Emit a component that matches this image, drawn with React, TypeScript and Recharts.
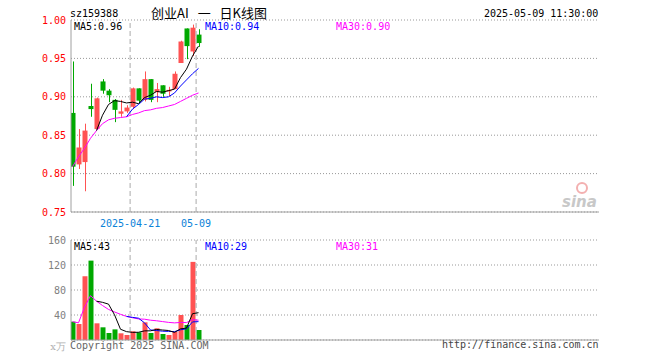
import { ComposedChart, Bar, Line, XAxis, YAxis, CartesianGrid, ReferenceLine, Cell } from "recharts";

const dates = [
  "2025-04-07", "2025-04-08", "2025-04-09", "2025-04-10", "2025-04-11",
  "2025-04-14", "2025-04-15", "2025-04-16", "2025-04-17", "2025-04-18",
  "2025-04-21", "2025-04-22", "2025-04-23", "2025-04-24", "2025-04-25",
  "2025-04-28", "2025-04-29", "2025-04-30", "2025-05-06", "2025-05-07",
  "2025-05-08", "2025-05-09",
];
const opens = [0.879, 0.812, 0.815, 0.888, 0.858, 0.920, 0.908, 0.896, 0.878, 0.881, 0.887, 0.911, 0.896, 0.923, 0.906, 0.915, 0.907, 0.910, 0.944, 0.989, 0.959, 0.981];
const closes = [0.809, 0.834, 0.856, 0.884, 0.898, 0.908, 0.902, 0.883, 0.881, 0.886, 0.911, 0.895, 0.923, 0.896, 0.910, 0.904, 0.909, 0.930, 0.972, 0.966, 0.990, 0.970];
const highs = [0.946, 0.858, 0.865, 0.917, 0.899, 0.923, 0.910, 0.897, 0.896, 0.889, 0.912, 0.911, 0.933, 0.923, 0.918, 0.915, 0.913, 0.933, 0.973, 0.989, 0.994, 0.988];
const lows = [0.784, 0.806, 0.777, 0.874, 0.857, 0.904, 0.893, 0.867, 0.874, 0.879, 0.884, 0.892, 0.894, 0.893, 0.893, 0.900, 0.901, 0.910, 0.944, 0.949, 0.953, 0.965];
const ma5 = [null, null, null, null, 0.856, 0.876, 0.890, 0.895, 0.894, 0.892, 0.893, 0.891, 0.899, 0.902, 0.907, 0.906, 0.908, 0.910, 0.925, 0.936, 0.953, 0.966];
const ma10 = [null, null, null, null, null, null, null, null, null, 0.874, 0.884, 0.890, 0.897, 0.898, 0.900, 0.899, 0.900, 0.905, 0.914, 0.922, 0.930, 0.937];
const ma30 = [0.809, 0.822, 0.833, 0.846, 0.856, 0.865, 0.870, 0.872, 0.873, 0.874, 0.877, 0.879, 0.882, 0.883, 0.885, 0.886, 0.888, 0.890, 0.894, 0.898, 0.902, 0.905];

const vols = [29.3, 25.6, 102, 127, 26.7, 20.3, 11.2, 17, 10.7, 8, 13.9, 12.3, 28.3, 11.2, 18.7, 9.6, 8, 13.3, 40, 24, 125, 16];
const volMa5 = [null, null, null, null, 62.1, 60.3, 57.4, 40.4, 17.2, 13.4, 12.2, 12.4, 14.6, 14.7, 16.9, 16.0, 15.2, 12.2, 17.9, 19.0, 42.1, 43.7];
const volMa10 = [null, null, null, null, null, null, null, null, null, 37.8, 36.2, 34.9, 27.5, 16.0, 15.2, 14.1, 13.8, 13.4, 16.3, 17.9, 29.0, 29.4];
const volMa30 = [29.3, 27.5, 52.3, 71.0, 62.1, 55.2, 48.9, 44.9, 41.1, 37.8, 35.6, 33.7, 33.3, 31.7, 30.8, 29.5, 28.2, 27.4, 28.1, 27.9, 32.5, 31.7];

const priceTicks = [0.75, 0.8, 0.85, 0.9, 0.95, 1.0];
const volTicks = [0, 40, 80, 120, 160];
const markedDays = [10, 21];
const markedLabels = ["2025-04-21", "05-09"];

const RED = "#ff5252";
const GREEN = "#00a800";
const FRAME = "#a0a0a0";
const MONO = "'DejaVu Sans Mono', monospace";
// 88 day slots across the panel, each 6px wide
const X_DOMAIN: [number, number] = [-0.25, 87.75];
const slotEdge = (i: number) => i - 0.4;

const rows = dates.map((d, i) => ({
  i,
  date: d,
  open: opens[i],
  close: closes[i],
  high: highs[i],
  low: lows[i],
  range: [lows[i], highs[i]],
  up: closes[i] >= opens[i],
  ma5: ma5[i],
  ma10: ma10[i],
  ma30: ma30[i],
  vol: vols[i],
  vma5: volMa5[i],
  vma10: volMa10[i],
  vma30: volMa30[i],
}));

const Candle = (props: any) => {
  const { x, y, width, height, payload } = props;
  const { open, close, high, low, up } = payload;
  const color = up ? RED : GREEN;
  const k = high > low ? height / (high - low) : 0;
  const yo = y + (high - open) * k;
  const yc = y + (high - close) * k;
  const top = Math.min(yo, yc);
  const h = Math.max(1, Math.abs(yo - yc));
  const cx = Math.floor(x + width / 2) + 0.5;
  return (
    <g>
      <line x1={cx} x2={cx} y1={y} y2={y + height} stroke={color} strokeWidth={1} />
      <rect x={x} y={top} width={width} height={h} fill={color} />
    </g>
  );
};

const VolTick = (props: any) => {
  const { x, y, payload } = props;
  if (payload.value === 0) {
    return (
      <text x={x} y={y + 6} dy="0.35em" textAnchor="end" fill="#b0b0b0" fontSize={10} fontFamily="'DejaVu Serif', serif">
        x万
      </text>
    );
  }
  return (
    <text x={x} y={y} dy="0.35em" textAnchor="end" fill="#808080" fontSize={10} fontFamily={MONO}>
      {payload.value}
    </text>
  );
};

const dayLabel = (v: number) => {
  const k = markedDays.findIndex((d) => Math.abs(slotEdge(d) - v) < 0.01);
  return k >= 0 ? markedLabels[k] : "";
};

const txt = (left: number, top: number, color: string, s: string, extra: any = {}) => (
  <div style={{ position: "absolute", left, top, color, fontFamily: MONO, fontSize: 10, lineHeight: "12px", whiteSpace: "pre", ...extra }}>
    {s}
  </div>
);

export default function App() {
  return (
    <div style={{ position: "absolute", left: 0, top: 0, width: 660, height: 360, background: "#fff", overflow: "hidden" }}>
      {txt(70, 8, "#000", "sz159388")}
      <div style={{ position: "absolute", left: 151, top: 5, fontFamily: "'Noto Sans CJK SC', sans-serif", fontSize: 13, lineHeight: "16px", color: "#000", whiteSpace: "pre", wordSpacing: 6 }}>
        创业AI 一 日K线图
      </div>
      {txt(484, 8, "#000", "2025-05-09 11:30:00")}

      <div style={{ position: "absolute", left: 0, top: 0 }}>
        <ComposedChart width={660} height={232} data={rows} margin={{ top: 20, right: 61, bottom: 0, left: 0 }}>
          <CartesianGrid vertical={false} stroke="#999" strokeDasharray="1 2" />
          <XAxis
            dataKey="i"
            type="number"
            domain={X_DOMAIN}
            allowDataOverflow
            ticks={markedDays.map(slotEdge)}
            interval={0}
            tickFormatter={dayLabel}
            tickLine={false}
            tickSize={0}
            tickMargin={8}
            height={20}
            axisLine={{ stroke: FRAME }}
            tick={{ fill: "#0a82d8", fontSize: 10, fontFamily: MONO }}
          />
          <XAxis xAxisId="top" orientation="top" height={0} tick={false} tickLine={false} axisLine={{ stroke: FRAME }} />
          <YAxis
            domain={[0.75, 1.0]}
            ticks={priceTicks}
            interval={0}
            width={71}
            tickLine={false}
            tickSize={0}
            tickMargin={5}
            axisLine={{ stroke: FRAME }}
            tickFormatter={(v: number) => v.toFixed(2)}
            tick={{ fill: "#ff0000", fontSize: 10, fontFamily: MONO }}
          />
          <YAxis yAxisId="right" orientation="right" width={0} tick={false} tickLine={false} axisLine={{ stroke: FRAME }} />
          {markedDays.map((d) => (
            <ReferenceLine key={d} x={slotEdge(d)} stroke="#aaa" strokeDasharray="5 3" />
          ))}
          <Bar dataKey="range" barSize={5} shape={Candle} isAnimationActive={false} />
          <Line dataKey="ma30" stroke="#ff00ff" strokeWidth={1} dot={false} type="linear" isAnimationActive={false} />
          <Line dataKey="ma10" stroke="#0000ff" strokeWidth={1} dot={false} type="linear" isAnimationActive={false} />
          <Line dataKey="ma5" stroke="#000" strokeWidth={1} dot={false} type="linear" isAnimationActive={false} />
        </ComposedChart>
      </div>
      {txt(74, 21, "#000", "MA5:0.96")}
      {txt(205, 21, "#0000ff", "MA10:0.94")}
      {txt(336, 21, "#ff00ff", "MA30:0.90")}
      <div style={{ position: "absolute", left: 576, top: 182, width: 8, height: 8, borderRadius: "50%", border: "2px solid #f3b0b0" }} />
      <div style={{ position: "absolute", left: 562, top: 193, fontFamily: "'DejaVu Sans', sans-serif", fontStyle: "italic", fontWeight: "bold", fontSize: 15, color: "#c8c8c8" }}>
        sina
      </div>

      <div style={{ position: "absolute", left: 0, top: 232 }}>
        <ComposedChart width={660} height={128} data={rows} margin={{ top: 8, right: 61, bottom: 0, left: 0 }}>
          <CartesianGrid vertical={false} stroke="#999" strokeDasharray="1 2" />
          <XAxis dataKey="i" type="number" domain={X_DOMAIN} allowDataOverflow tick={false} tickLine={false} height={20} axisLine={{ stroke: FRAME }} />
          <XAxis xAxisId="top" orientation="top" height={0} tick={false} tickLine={false} axisLine={{ stroke: FRAME }} />
          <YAxis
            domain={[0, 160]}
            ticks={volTicks}
            interval={0}
            width={71}
            tickLine={false}
            tickSize={0}
            tickMargin={5}
            axisLine={{ stroke: FRAME }}
            tick={<VolTick />}
          />
          <YAxis yAxisId="right" orientation="right" width={0} tick={false} tickLine={false} axisLine={{ stroke: FRAME }} />
          {markedDays.map((d) => (
            <ReferenceLine key={d} x={slotEdge(d)} stroke="#aaa" strokeDasharray="5 3" />
          ))}
          <Bar dataKey="vol" barSize={5} isAnimationActive={false}>
            {rows.map((r) => (
              <Cell key={r.i} fill={r.up ? RED : GREEN} />
            ))}
          </Bar>
          <Line dataKey="vma30" stroke="#ff00ff" strokeWidth={1} dot={false} type="linear" isAnimationActive={false} />
          <Line dataKey="vma10" stroke="#0000ff" strokeWidth={1} dot={false} type="linear" isAnimationActive={false} />
          <Line dataKey="vma5" stroke="#000" strokeWidth={1} dot={false} type="linear" isAnimationActive={false} />
        </ComposedChart>
      </div>
      {txt(74, 241, "#000", "MA5:43")}
      {txt(205, 241, "#0000ff", "MA10:29")}
      {txt(336, 241, "#ff00ff", "MA30:31")}
      {txt(70, 340, "#666", "Copyright 2025 SINA.COM")}
      {txt(442, 339, "#444", "http://finance.sina.com.cn")}
    </div>
  );
}
